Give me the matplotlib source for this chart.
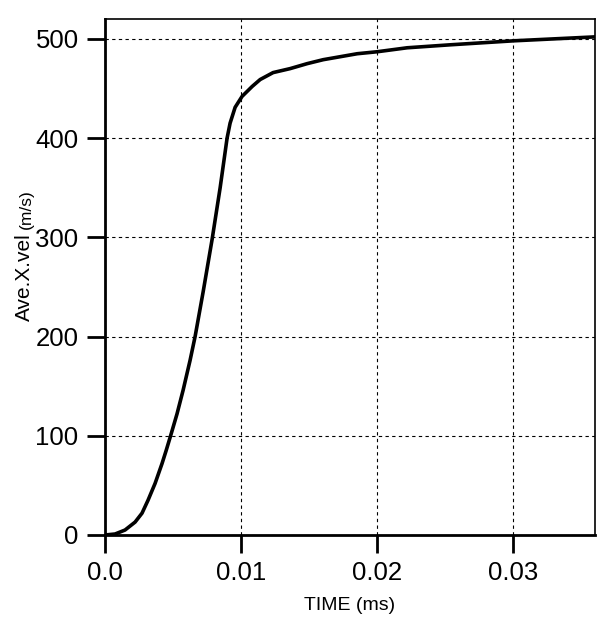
import matplotlib
matplotlib.use("Agg")
import matplotlib.pyplot as plt

time_ms = [0.0, 0.00074, 0.00147, 0.00221, 0.00272, 0.00316, 0.00368, 0.00419,
           0.00449, 0.00482, 0.00529, 0.00574, 0.00625, 0.00662, 0.00721,
           0.00787, 0.00846, 0.00897, 0.00919, 0.00956, 0.01007, 0.01081,
           0.0114, 0.01235, 0.0136, 0.01485, 0.01603, 0.01728, 0.01853,
           0.02, 0.0222, 0.02537, 0.03, 0.03603]
ave_x_vel = [0, 1, 5, 13, 22, 35, 52, 72,
             85, 100, 122, 146, 176, 200, 245,
             298, 350, 400, 415, 431, 442, 452,
             459, 466, 470, 475, 479, 482, 485,
             487, 491, 494, 498, 502]

x_ticks = [0.0, 0.01, 0.02, 0.03]
x_tick_labels = ["0.0", "0.01", "0.02", "0.03"]
y_ticks = [0, 100, 200, 300, 400, 500]

plt.rcParams['font.family'] = ['Liberation Sans', 'DejaVu Sans']

fig = plt.figure(figsize=(6.03, 6.25), dpi=100)
ax = fig.add_axes([105/603, 1-535/625, (595-105)/603, (535-19)/625])

ax.plot(time_ms, ave_x_vel, color='black', lw=2.6, solid_joinstyle='round',
        solid_capstyle='butt')
ax.set_xlim(0, 0.036)
ax.set_ylim(0, 520)
ax.set_xticks(x_ticks)
ax.set_xticklabels(x_tick_labels)
ax.set_yticks(y_ticks)
ax.grid(True, color='black', linestyle=(0, (3, 3)), linewidth=0.8)
ax.tick_params(direction='out', length=13, width=2, labelsize=18.5, pad=6)
for s in ax.spines.values():
    s.set_linewidth(1.2)
ax.spines['left'].set_linewidth(2)
ax.spines['bottom'].set_linewidth(2)

ax.set_xlabel("TIME (ms)", fontsize=14, labelpad=8)

# y label: main part plus smaller unit part, reading bottom to top
t1 = fig.text(34/603, 1 - 321/625, "Ave.X.vel", rotation=90, rotation_mode='anchor',
              ha='left', va='bottom', fontsize=15)
ax.annotate("(m/s)", xy=(1, 1), xycoords=t1, xytext=(0, 3),
            textcoords='offset points', rotation=90, rotation_mode='anchor',
            ha='left', va='bottom', fontsize=12.5, annotation_clip=False)

fig.savefig("out.png", dpi=100)
